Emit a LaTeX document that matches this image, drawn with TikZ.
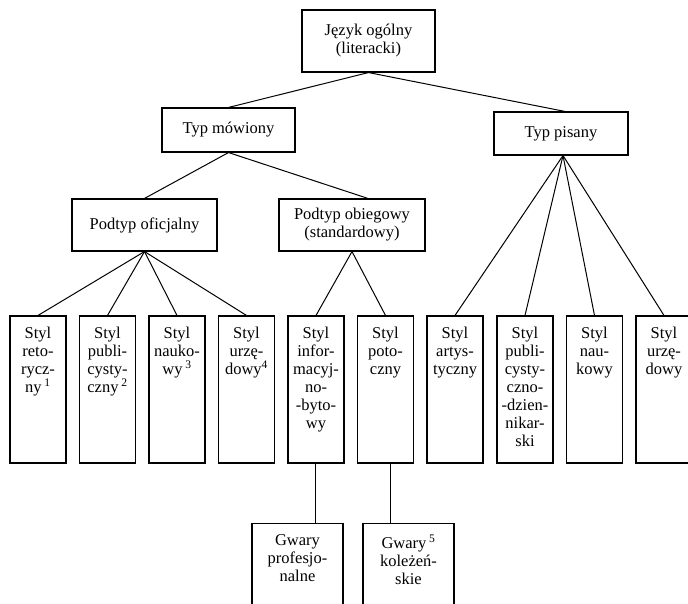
\documentclass[tikz,border=0pt]{standalone}
\usepackage{fontspec}
\setmainfont{Liberation Serif}
\begin{document}
\begin{tikzpicture}[x=1pt,y=-1pt,
  every node/.style={font=\fontsize{16.5}{18}\selectfont},
  box/.style={draw, line width=1.1pt, inner sep=0pt, align=center},
  leaf/.style={draw, line width=1.1pt, minimum width=56pt, minimum height=147pt, inner sep=0pt},
  dial/.style={draw, line width=1.1pt, minimum width=91pt, minimum height=100pt, inner sep=0pt, anchor=north},
  lbl/.style={anchor=north, align=center, inner sep=0pt, yshift=-11.5pt},
  conn/.style={line width=1pt}
]
\useasboundingbox (0,0) rectangle (688,604);

% upper levels
\node[box, minimum width=133pt, minimum height=62pt] (root) at (368.5,41) {Język ogólny\\(literacki)};
\node[box, minimum width=133pt, minimum height=44pt] (mow) at (228.5,130) {Typ mówiony};
\node[box, minimum width=134pt, minimum height=43pt] (pis) at (561,133.5) {Typ pisany};
\node[box, minimum width=145pt, minimum height=52pt] (ofic) at (144.5,225) {Podtyp oficjalny};
\node[box, minimum width=146pt, minimum height=52pt] (obieg) at (352,225) {Podtyp obiegowy\\(standardowy)};

% styles
\node[leaf, label={[lbl]north:{Styl\\reto-\\rycz-\\ny\,\textsuperscript{1}}}] (s1) at (38,389.5) {};
\node[leaf, label={[lbl]north:{Styl\\publi-\\cysty-\\czny\,\textsuperscript{2}}}] (s2) at (107.5,389.5) {};
\node[leaf, label={[lbl]north:{Styl\\nauko-\\wy\,\textsuperscript{3}}}] (s3) at (177,389.5) {};
\node[leaf, label={[lbl]north:{Styl\\urzę-\\dowy\textsuperscript{4}}}] (s4) at (246.5,389.5) {};
\node[leaf, label={[lbl]north:{Styl\\infor-\\macyj-\\no-\\-byto-\\wy}}] (s5) at (316,389.5) {};
\node[leaf, label={[lbl]north:{Styl\\poto-\\czny}}] (s6) at (385.5,389.5) {};
\node[leaf, label={[lbl]north:{Styl\\artys-\\tyczny}}] (s7) at (455,389.5) {};
\node[leaf, label={[lbl]north:{Styl\\publi-\\cysty-\\czno-\\-dzien-\\nikar-\\ski}}] (s8) at (525,389.5) {};
\node[leaf, label={[lbl]north:{Styl\\nau-\\kowy}}] (s9) at (594.5,389.5) {};
\node[leaf, label={[lbl]north:{Styl\\urzę-\\dowy}}] (s10) at (664,389.5) {};

% dialects
\node[dial, label={[lbl]north:{Gwary\\profesjo-\\nalne}}] (g1) at (297.5,523) {};
\node[dial, label={[lbl]north:{Gwary\,\textsuperscript{5}\\koleżeń-\\skie}}] (g2) at (408.5,523) {};

% connectors
\draw[conn] (root.south) -- (mow.north);
\draw[conn] (root.south) -- ([xshift=4pt]pis.north);
\draw[conn] (mow.south) -- (ofic.north);
\draw[conn] (mow.south) -- ([xshift=16pt]obieg.north);
\foreach \s in {s1,s2,s3,s4} \draw[conn] (ofic.south) -- (\s.north);
\foreach \s in {s5,s6} \draw[conn] (obieg.south) -- (\s.north);
\foreach \s in {s7,s8,s9,s10} \draw[conn] ([xshift=2pt]pis.south) -- (\s.north);
\draw[conn] ([xshift=-1pt]s5.south) -- ([xshift=-1pt]s5.south |- g1.north);
\draw[conn] ([xshift=4.5pt]s6.south) -- ([xshift=4.5pt]s6.south |- g2.north);
\end{tikzpicture}
\end{document}
